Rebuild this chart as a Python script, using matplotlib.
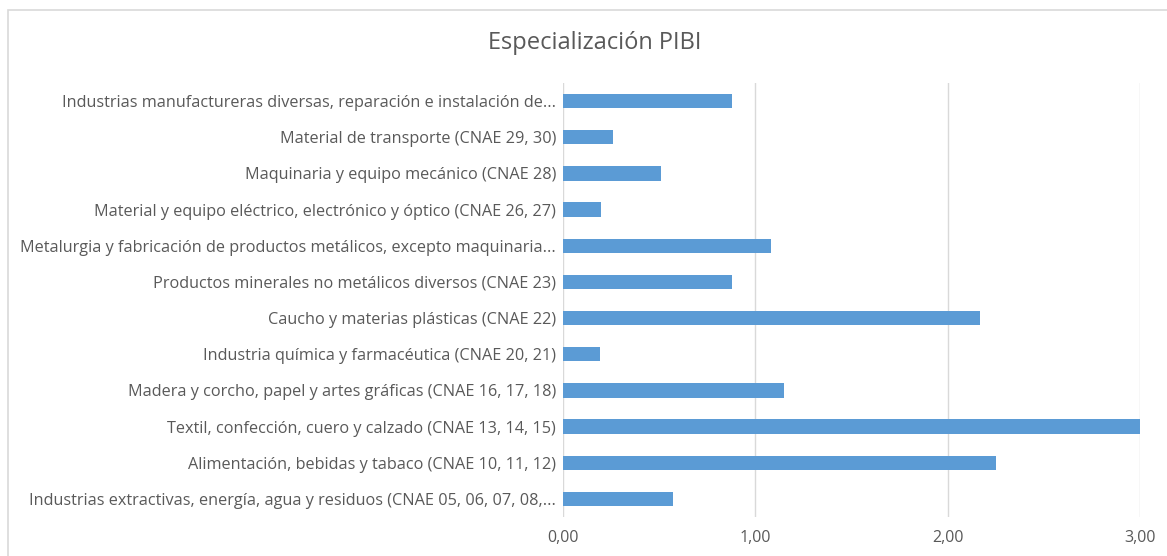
import matplotlib.pyplot as plt
from matplotlib.patches import Rectangle

# Categories from bottom to top
categorias = [
    "Industrias extractivas, energía, agua y residuos (CNAE 05, 06, 07, 08,...",
    "Alimentación, bebidas y tabaco (CNAE 10, 11, 12)",
    "Textil, confección, cuero y calzado (CNAE 13, 14, 15)",
    "Madera y corcho, papel y artes gráficas (CNAE 16, 17, 18)",
    "Industria química y farmacéutica (CNAE 20, 21)",
    "Caucho y materias plásticas (CNAE 22)",
    "Productos minerales no metálicos diversos (CNAE 23)",
    "Metalurgia y fabricación de productos metálicos, excepto maquinaria...",
    "Material y equipo eléctrico, electrónico y óptico (CNAE 26, 27)",
    "Maquinaria y equipo mecánico (CNAE 28)",
    "Material de transporte (CNAE 29, 30)",
    "Industrias manufactureras diversas, reparación e instalación de...",
]
valores = [0.57, 2.25, 3.00, 1.15, 0.19, 2.17, 0.88, 1.08, 0.20, 0.51, 0.26, 0.88]
xticks = [0, 1, 2, 3]
xticklabels = ["0,00", "1,00", "2,00", "3,00"]

plt.rcParams['font.family'] = ['Open Sans', 'DejaVu Sans']
gris = '#595959'

W, H = 1167, 556
fig = plt.figure(figsize=(W / 100, H / 100), dpi=100)

# chart border (right and bottom edges fall outside the picture)
fig.patches.append(Rectangle((8 / W, -0.1), 1.2, 1 - 10 / H + 0.1,
                             transform=fig.transFigure, fill=False,
                             edgecolor='#D9D9D9', linewidth=1.2))

ax = fig.add_axes([563 / W, 1 - 517 / H, (1140 - 563) / W, (517 - 83) / H])
ax.barh(range(len(categorias)), valores, height=0.4, color='#5B9BD5')

ax.set_xlim(0, 3)
ax.set_ylim(-0.5, len(categorias) - 0.5)
ax.set_xticks(xticks)
ax.set_xticklabels(xticklabels, color=gris, fontsize=11.5)
ax.set_yticks(range(len(categorias)))
ax.set_yticklabels(categorias, color=gris, fontsize=11.7)
ax.tick_params(length=0)
ax.tick_params(axis='x', pad=9)
ax.tick_params(axis='y', pad=5)

ax.grid(axis='x', color='#D9D9D9', linewidth=1)
ax.set_axisbelow(True)
for s in ax.spines.values():
    s.set_visible(False)

fig.text(595 / W, 1 - 43 / H, "Especialización PIBI", ha='center', va='center',
         fontsize=17, color=gris)

fig.savefig('out.png', dpi=100)
